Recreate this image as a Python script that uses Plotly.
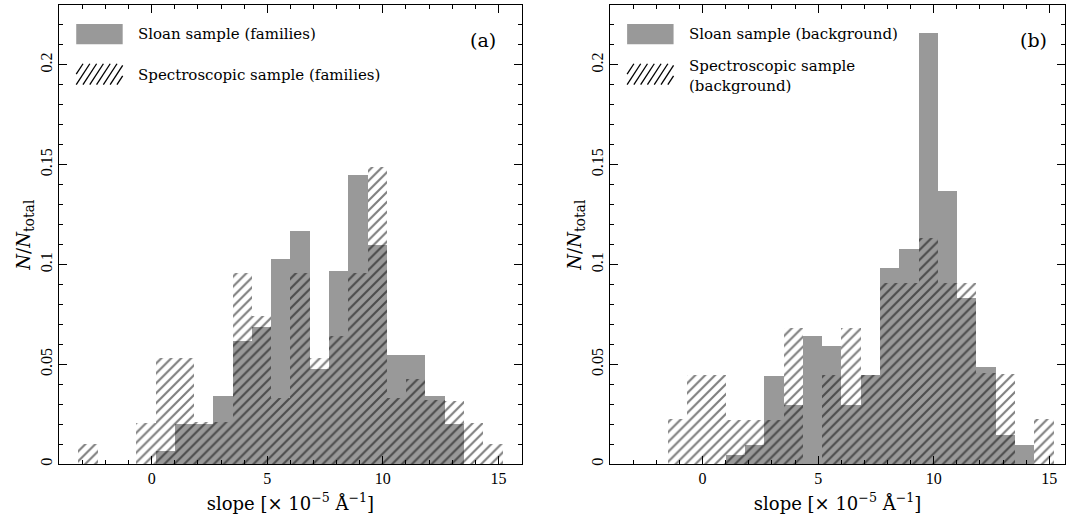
import numpy as np
import plotly.graph_objects as go

# ---------------- data ----------------
BIN_START = -3.16      # left edge of first histogram bin (slope units)
BIN_WIDTH = 0.834      # histogram bin width

sloan_families = [0, 0, 0, 0, 0.0066, 0.0204, 0.0204, 0.0344, 0.0618, 0.0688, 0.103,
                  0.117, 0.0478, 0.0967, 0.145, 0.110, 0.0548, 0.0548, 0.0344, 0.0204, 0, 0]
spec_families = [0.0101, 0, 0, 0.0209, 0.0533, 0.0533, 0.021, 0.021, 0.0957, 0.0744, 0.033,
                 0.0957, 0.053, 0.064, 0.0957, 0.149, 0.033, 0.0427, 0.032, 0.0319, 0.0208, 0.0100]
sloan_background = [0, 0, 0, 0, 0, 0.0047, 0.0096, 0.044, 0.0296, 0.064, 0.059,
                    0.0296, 0.0445, 0.0983, 0.108, 0.216, 0.137, 0.0834, 0.0488, 0.0146, 0.0096, 0]
spec_background = [0, 0, 0.0226, 0.0447, 0.0447, 0.0224, 0.0224, 0.0224, 0.068, 0, 0.0447,
                   0.068, 0.0447, 0.0909, 0.0909, 0.1135, 0.0909, 0.0909, 0.0455, 0.0452, 0, 0.0228]

x_ticks = [0, 5, 10, 15]
y_ticks = [0, 0.05, 0.1, 0.15, 0.2]
y_tick_labels = ["0", "0.05", "0.1", "0.15", "0.2"]

legend_a = ["Sloan sample (families)", "Spectroscopic sample (families)"]
legend_b = ["Sloan sample (background)", "Spectroscopic sample<br>(background)"]
panel_tags = ["(a)", "(b)"]

# ---------------- layout constants ----------------
W, H = 1066, 524
PLOT_TOP, PLOT_BOTTOM = 5, 466
PANELS = [(59.3, 522.0, [-4, 16]), (610.7, 1066.0, [-4, 15.68])]
GRAY = "#999999"
SERIF = "Liberation Serif"
LEG_FONT = "DejaVu Serif"

n_bins = len(sloan_families)
centers = BIN_START + BIN_WIDTH * (np.arange(n_bins) + 0.5)

fig = go.Figure()

series = [(sloan_families, spec_families), (sloan_background, spec_background)]
for i, (sl, sp) in enumerate(series):
    xa = "x" if i == 0 else "x2"
    ya = "y" if i == 0 else "y2"
    fig.add_trace(go.Bar(x=centers, y=sl, width=BIN_WIDTH, xaxis=xa, yaxis=ya,
                         marker=dict(color=GRAY, line=dict(width=0)), showlegend=False))
    fig.add_trace(go.Bar(x=centers, y=sp, width=BIN_WIDTH, xaxis=xa, yaxis=ya,
                         marker=dict(color="rgba(0,0,0,0)", line=dict(width=0),
                                     pattern=dict(shape="/", fgcolor="black",
                                                  bgcolor="rgba(0,0,0,0)",
                                                  size=7, solidity=0.3)),
                         showlegend=False))

ydom = [(H - PLOT_BOTTOM) / H, (H - PLOT_TOP) / H]
axis_common = dict(showline=True, linecolor="black", linewidth=1, mirror="allticks",
                   ticks="inside", tickcolor="black", ticklen=8, tickwidth=1,
                   showgrid=False, zeroline=False,
                   tickfont=dict(family=SERIF, size=16, color="black"))
layout = dict(width=W, height=H, margin=dict(l=0, r=0, t=0, b=0),
              paper_bgcolor="white", plot_bgcolor="white", barmode="overlay",
              bargap=0, showlegend=False)

xtitle = "slope [× 10<sup>−5</sup> Å<sup>−1</sup>]"
ytitle = "<i>N</i>/<i>N</i><sub><span style='font-size:14px'>total</span></sub>"
for i, (l, r, rng) in enumerate(PANELS):
    sfx = "" if i == 0 else "2"
    layout["xaxis" + sfx] = dict(axis_common, domain=[l / W, r / W], range=rng,
                                 anchor="y" + sfx, tickvals=x_ticks,
                                 minor=dict(dtick=1, tick0=0, ticks="inside", ticklen=4,
                                            tickcolor="black"),
                                 title=dict(text=xtitle, standoff=10,
                                            font=dict(family=LEG_FONT, size=18, color="black")))
    layout["yaxis" + sfx] = dict(axis_common, domain=ydom, range=[0, 0.23],
                                 anchor="x" + sfx, tickvals=y_ticks, ticktext=y_tick_labels,
                                 tickangle=-90,
                                 minor=dict(dtick=0.01, tick0=0, ticks="inside", ticklen=4,
                                            tickcolor="black"),
                                 title=dict(text=ytitle, standoff=2,
                                            font=dict(family=LEG_FONT, size=18, color="black")))
fig.update_layout(**layout)

# ---------------- hand-drawn legends ----------------
PH = PLOT_BOTTOM - PLOT_TOP
shapes, annotations = [], []
for i, (l, r, rng) in enumerate(PANELS):
    sfx = "" if i == 0 else "2"
    PW = r - l
    xr, yr = "x%s domain" % sfx, "y%s domain" % sfx
    fx = lambda p: p / PW
    fy = lambda p: 1 - (p - PLOT_TOP) / PH
    # gray swatch
    shapes.append(dict(type="rect", xref=xr, yref=yr, x0=fx(17), x1=fx(63.5),
                       y0=fy(44.3), y1=fy(24), fillcolor=GRAY, line=dict(width=0)))
    # hatched swatch: diagonal lines clipped to box
    bx0, bx1, by0, by1 = 17, 63.5, 85, 64
    hgt = by0 - by1
    run = hgt * 0.65
    o = -run
    while o < bx1 - bx0:
        xa0, ya0 = bx0 + o, by0
        xa1, ya1 = bx0 + o + run, by1
        if xa0 < bx0:
            t = (bx0 - xa0) / run
            xa0, ya0 = bx0, by0 - t * hgt
        if xa1 > bx1:
            t = (xa1 - bx1) / run
            xa1, ya1 = bx1, by1 + t * hgt
        if xa1 > xa0:
            shapes.append(dict(type="line", xref=xr, yref=yr, x0=fx(xa0), y0=fy(ya0),
                               x1=fx(xa1), y1=fy(ya1), line=dict(color="black", width=1.3)))
        o += 6.8
    labels = legend_a if i == 0 else legend_b
    annotations.append(dict(xref=xr, yref=yr, x=fx(77), y=fy(34.3), text=labels[0],
                            showarrow=False, xanchor="left", yanchor="middle",
                            font=dict(family=LEG_FONT, size=15, color="black")))
    annotations.append(dict(xref=xr, yref=yr, x=fx(77), y=fy(75 if i == 0 else 76),
                            text=labels[1], showarrow=False, xanchor="left", yanchor="middle",
                            align="left",
                            font=dict(family=LEG_FONT, size=15, color="black")))
    annotations.append(dict(xref=xr, yref=yr, x=fx(424), y=fy(40), text=panel_tags[i],
                            showarrow=False, xanchor="center", yanchor="middle",
                            font=dict(family=LEG_FONT, size=19, color="black")))

fig.update_layout(shapes=shapes, annotations=annotations)
fig.write_html("out.html")
